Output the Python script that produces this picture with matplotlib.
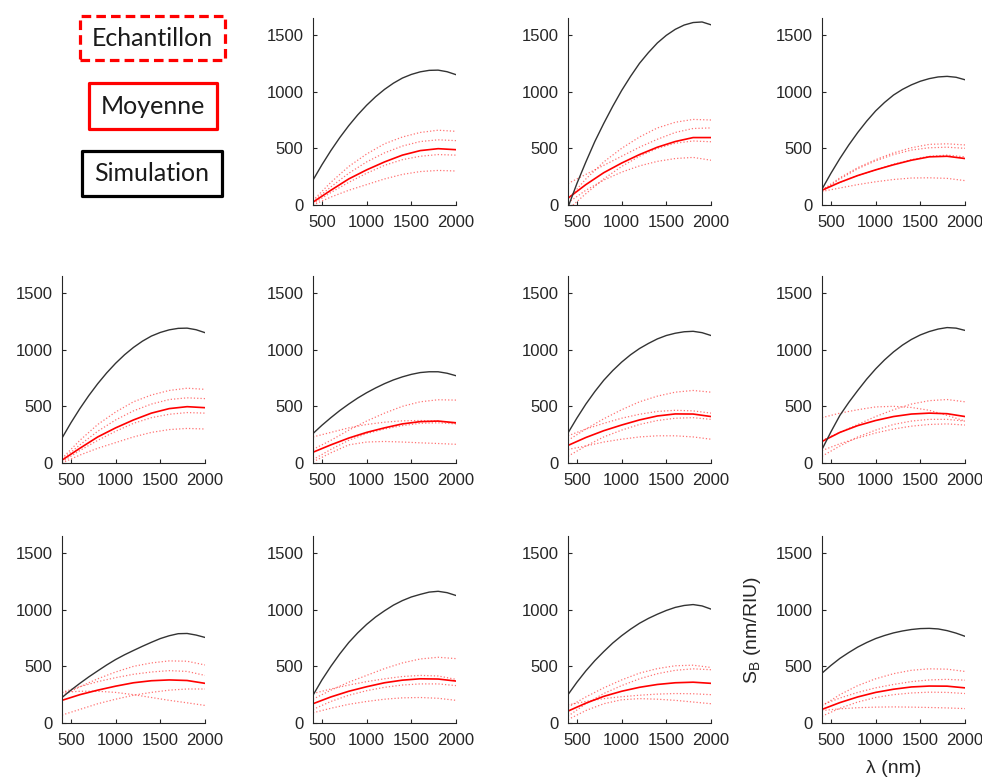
import matplotlib
matplotlib.use('Agg')
import matplotlib.pyplot as plt
from matplotlib.patches import Rectangle

plt.rcParams['font.family'] = ['Liberation Sans', 'DejaVu Sans']
plt.rcParams['mathtext.fontset'] = 'custom'
plt.rcParams['mathtext.rm'] = 'Liberation Sans'
plt.rcParams['mathtext.it'] = 'Liberation Sans:italic'

# wavelength grids (nm)
lam = [400, 600, 800, 1000, 1200, 1400, 1600, 1800, 2000]
lam_sim = [400, 500, 600, 700, 800, 900, 1000, 1100, 1200,
           1300, 1400, 1500, 1600, 1700, 1800, 1900, 2000]

# simulated sensitivity, one curve per panel (on lam_sim)
sim_curves = [
    [220, 355, 480, 595, 700, 795, 880, 955, 1020, 1075, 1120, 1152, 1175, 1188, 1190, 1176, 1150],
    [-20, 190, 380, 560, 720, 870, 1010, 1135, 1250, 1345, 1430, 1497, 1550, 1588, 1610, 1615, 1590],
    [140, 280, 410, 530, 640, 740, 830, 905, 970, 1020, 1060, 1092, 1115, 1130, 1135, 1127, 1105],
    [220, 355, 480, 595, 700, 795, 880, 955, 1020, 1075, 1120, 1152, 1175, 1188, 1190, 1176, 1150],
    [260, 333, 400, 463, 520, 573, 620, 662, 700, 733, 760, 782, 798, 805, 805, 792, 770],
    [265, 397, 520, 630, 730, 815, 890, 955, 1010, 1055, 1095, 1125, 1145, 1158, 1162, 1150, 1125],
    [120, 275, 420, 535, 640, 740, 830, 910, 980, 1040, 1090, 1130, 1160, 1182, 1195, 1190, 1170],
    [225, 290, 350, 407, 460, 512, 560, 602, 640, 677, 712, 745, 770, 788, 790, 776, 755],
    [245, 380, 500, 610, 710, 795, 870, 935, 990, 1040, 1080, 1112, 1135, 1155, 1162, 1150, 1125],
    [250, 360, 460, 550, 630, 705, 770, 828, 880, 923, 960, 993, 1020, 1037, 1045, 1033, 1005],
    [440, 508, 570, 622, 670, 710, 745, 772, 795, 812, 825, 833, 835, 830, 815, 793, 765],
]

# mean of the measured samples (on lam)
mean_curves = [
    [25, 130, 230, 310, 380, 440, 480, 497, 488],
    [60, 180, 285, 370, 445, 510, 560, 595, 595],
    [130, 200, 260, 310, 355, 395, 425, 430, 410],
    [25, 130, 230, 310, 380, 440, 480, 497, 488],
    [95, 160, 220, 270, 310, 345, 365, 370, 355],
    [155, 225, 285, 335, 380, 415, 433, 432, 410],
    [190, 270, 330, 375, 410, 432, 440, 435, 410],
    [200, 250, 290, 325, 355, 373, 380, 375, 350],
    [170, 230, 280, 320, 355, 378, 390, 388, 370],
    [105, 175, 235, 280, 315, 340, 355, 360, 350],
    [120, 180, 230, 270, 298, 318, 326, 325, 310],
]

# individual samples (Echantillon), on lam
sample_curves = [
    [[40, 200, 340, 450, 540, 600, 640, 660, 650],
     [30, 160, 280, 380, 460, 520, 560, 575, 568],
     [10, 110, 200, 280, 350, 400, 430, 445, 440],
     [0, 70, 130, 180, 230, 270, 295, 305, 300]],
    [[50, 230, 380, 500, 600, 680, 730, 755, 750],
     [190, 270, 350, 430, 510, 580, 640, 675, 680],
     [-40, 100, 230, 340, 430, 500, 545, 565, 558],
     [20, 130, 220, 290, 345, 385, 410, 420, 395]],
    [[130, 240, 330, 400, 460, 505, 535, 540, 530],
     [120, 230, 320, 390, 445, 485, 505, 510, 500],
     [140, 200, 260, 310, 360, 400, 430, 440, 425],
     [120, 150, 180, 205, 225, 238, 240, 235, 215]],
    [[40, 200, 340, 450, 540, 600, 640, 660, 650],
     [30, 160, 280, 380, 460, 520, 560, 575, 568],
     [10, 110, 200, 280, 350, 400, 430, 445, 440],
     [0, 70, 130, 180, 230, 270, 295, 305, 300]],
    [[120, 200, 290, 370, 440, 500, 540, 558, 555],
     [230, 270, 310, 340, 360, 372, 375, 370, 350],
     [30, 120, 200, 260, 300, 330, 350, 355, 345],
     [10, 90, 160, 185, 190, 185, 178, 172, 165]],
    [[200, 300, 390, 470, 540, 590, 625, 640, 625],
     [240, 300, 350, 395, 430, 455, 465, 460, 440],
     [60, 150, 230, 290, 340, 375, 395, 400, 385],
     [120, 150, 185, 210, 230, 240, 240, 230, 210]],
    [[400, 440, 470, 495, 500, 490, 465, 420, 370],
     [200, 270, 340, 410, 470, 520, 550, 560, 540],
     [60, 150, 230, 290, 340, 370, 385, 385, 370],
     [110, 170, 220, 265, 300, 325, 340, 345, 335]],
    [[240, 320, 390, 450, 500, 530, 548, 545, 512],
     [270, 320, 365, 400, 430, 450, 462, 455, 420],
     [270, 280, 280, 270, 250, 225, 200, 178, 155],
     [70, 120, 170, 210, 245, 270, 290, 300, 300]],
    [[210, 290, 360, 420, 480, 530, 565, 580, 568],
     [260, 300, 335, 365, 390, 410, 420, 415, 385],
     [120, 190, 245, 285, 315, 335, 345, 345, 330],
     [90, 130, 165, 190, 210, 222, 225, 218, 200]],
    [[140, 230, 310, 380, 440, 480, 505, 510, 490],
     [60, 170, 260, 330, 390, 435, 465, 478, 470],
     [160, 190, 215, 232, 245, 255, 260, 258, 250],
     [30, 110, 170, 205, 215, 210, 200, 185, 170]],
    [[150, 250, 330, 390, 435, 465, 478, 475, 455],
     [160, 220, 270, 310, 340, 365, 380, 385, 378],
     [60, 130, 185, 225, 250, 265, 272, 270, 260],
     [110, 125, 135, 140, 142, 140, 137, 133, 127]],
]

x_ticks = [500, 1000, 1500, 2000]
y_ticks = [0, 500, 1000, 1500]

W, H = 982, 783
fig = plt.figure(figsize=(W / 100, H / 100), dpi=100)

col_left = [62, 313, 568, 822]
row_bottom = [205, 463, 723]
ax_w, ax_h = 143, 187

for k in range(len(sim_curves)):
    cell = k + 1
    r, c = cell // 4, cell % 4
    ax = fig.add_axes([col_left[c] / W, 1 - row_bottom[r] / H, ax_w / W, ax_h / H])
    for s in sample_curves[k]:
        ax.plot(lam, s, color='red', linestyle=':', linewidth=0.9, alpha=0.55)
    ax.plot(lam, mean_curves[k], color='red', linewidth=1.2)
    ax.plot(lam_sim, sim_curves[k], color='#333333', linewidth=1.0)
    ax.set_xlim(400, 2000)
    ax.set_ylim(0, 1650)
    ax.set_xticks(x_ticks)
    ax.set_yticks(y_ticks)
    ax.spines['top'].set_visible(False)
    ax.spines['right'].set_visible(False)
    for sp in ('left', 'bottom'):
        ax.spines[sp].set_color('#262626')
        ax.spines[sp].set_linewidth(0.8)
    ax.tick_params(direction='in', length=3, width=0.8, labelsize=12,
                   colors='#262626')
    ax.tick_params(axis='y', pad=7)
    ax.tick_params(axis='x', pad=7)
    if k == len(sim_curves) - 1:
        ax.set_ylabel('S$_\\mathregular{B}$ (nm/RIU)', fontsize=14, color='#262626', labelpad=9)
        ax.set_xlabel('λ (nm)', fontsize=14, color='#262626', labelpad=9)

# legend boxes drawn in the empty top-left cell
legend_items = [
    ('Echantillon', 'red', (0, (3, 1.6)), (80, 16, 225, 60)),
    ('Moyenne', 'red', 'solid', (89, 83, 217, 129)),
    ('Simulation', 'black', 'solid', (82, 151, 222, 196)),
]
for label, col, ls, (x0, y0, x1, y1) in legend_items:
    rect = Rectangle((x0 / W, 1 - y1 / H), (x1 - x0) / W, (y1 - y0) / H,
                     transform=fig.transFigure, fill=False, edgecolor=col,
                     linewidth=2.3, linestyle=ls, joinstyle='round')
    fig.patches.append(rect)
    fig.text((x0 + x1) / 2 / W, 1 - (y0 + y1) / 2 / H, label, ha='center', va='center',
             fontsize=18, family=['Lato', 'DejaVu Sans'], color='#1a1a1a')

fig.savefig('out.png', dpi=100)
